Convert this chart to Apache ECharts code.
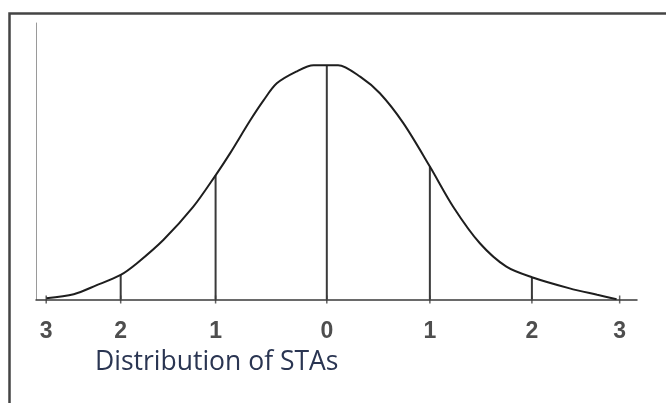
<!DOCTYPE html>
<html>
<head>
<meta charset="utf-8">
<script src="https://cdn.jsdelivr.net/npm/echarts@6/dist/echarts.min.js"></script>
<style>
  html, body { margin: 0; padding: 0; background: #fff; }
  #chart { width: 666px; height: 403px; }
</style>
</head>
<body>
<div id="chart"></div>
<script>
// hand-drawn bell curve, x in sigma-ish units (as drawn), y in density units
var curveX = [-2.76, -2.49, -2.27, -2.03, -1.87, -1.61, -1.32, -1.10, -0.96, -0.76, -0.63, -0.50, -0.31, -0.14, -0.01,
              0.10, 0.32, 0.51, 0.74, 1.00, 1.23, 1.49, 1.75, 2.00, 2.37, 2.64, 2.83];
var curveY = [0.002, 0.009, 0.024, 0.042, 0.062, 0.102, 0.158, 0.212, 0.249, 0.306, 0.340, 0.369, 0.389, 0.400, 0.400,
              0.400, 0.380, 0.352, 0.301, 0.227, 0.158, 0.096, 0.056, 0.038, 0.019, 0.008, 0.0005];

// vertical sigma lines
var sigmaX = [-2.03, -1.10, -0.01, 1.00, 2.00];
var sigmaH = [0.042, 0.212, 0.400, 0.227, 0.038];

// tick marks and their labels
var tickPos = [-2.76, -2.03, -1.10, -0.01, 1.00, 2.00, 2.86];
var tickLabels = ['3', '2', '1', '0', '1', '2', '3'];

var chart = echarts.init(document.getElementById('chart'));

var option = {
    animation: false,
    title: {
        text: 'Distribution of STAs',
        left: 95,
        top: 349,
        padding: 0,
        textStyle: {
            fontFamily: 'Open Sans',
            fontSize: 26.5,
            fontWeight: 'normal',
            color: '#2a3552'
        }
    },
    graphic: [{
        type: 'rect',
        shape: { x: 9.5, y: 13.5, width: 720, height: 460 },
        style: { fill: 'none', stroke: '#444', lineWidth: 2.5 },
        silent: true
    }],
    grid: {
        left: 36,
        right: 29,
        top: 23,
        bottom: 103.5
    },
    xAxis: {
        type: 'value',
        min: -2.86,
        max: 3.03,
        axisLine: { show: true, lineStyle: { color: '#3a3a3a', width: 1.5 } },
        axisTick: { show: false },
        axisLabel: { show: false },
        splitLine: { show: false }
    },
    yAxis: {
        type: 'value',
        min: 0,
        max: 0.472,
        axisLine: { show: true, onZero: false, lineStyle: { color: '#9a9a9a', width: 1 } },
        axisTick: { show: false },
        axisLabel: { show: false },
        splitLine: { show: false }
    },
    series: [{
        name: 'sigma lines',
        type: 'bar',
        barWidth: 2,
        itemStyle: { color: '#3a3a3a' },
        data: sigmaX.map(function (x, i) { return [x, sigmaH[i]]; })
    }, {
        name: 'curve',
        type: 'line',
        smooth: 0.3,
        symbol: 'none',
        lineStyle: { color: '#1e1e1e', width: 2 },
        data: curveX.map(function (x, i) { return [x, curveY[i]]; }),
        z: 3
    }, {
        name: 'ticks',
        type: 'scatter',
        symbol: 'rect',
        symbolSize: [1.5, 8],
        itemStyle: { color: '#3a3a3a' },
        label: {
            show: true,
            position: 'bottom',
            distance: 17,
            formatter: function (p) { return tickLabels[p.dataIndex]; },
            fontFamily: 'Liberation Sans',
            fontSize: 23,
            fontWeight: 'bold',
            color: '#222'
        },
        data: tickPos.map(function (x) { return [x, 0]; }),
        z: 4
    }]
};
chart.setOption(option);
</script>
</body>
</html>
